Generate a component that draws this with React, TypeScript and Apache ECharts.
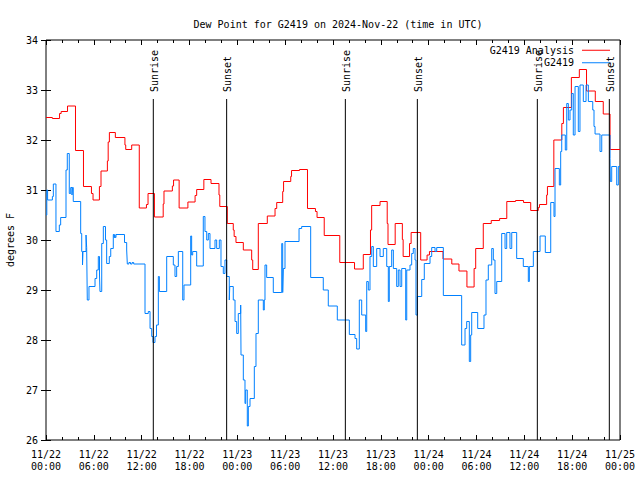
import React, { useEffect, useRef } from "react";
import * as echarts from "echarts";

const TITLE = "Dew Point for G2419 on 2024-Nov-22 (time in UTC)";
const Y_NAME = "degrees F";
const ANALYSIS_NAME = "G2419 Analysis";
const OBS_NAME = "G2419";

// hours since 2024-11-22 00:00 UTC
const analysisHours = [0, 0.8, 1.7, 1.9, 2.7, 3.7, 4.7, 5.7, 5.9, 6.7, 6.9, 7.7, 7.8, 7.95, 8.7, 9.9, 10.0, 10.75, 11.7, 12.6, 12.8, 13.6, 14.7, 14.8, 15.85, 16.0, 16.7, 17.8, 18.7, 18.9, 19.8, 20.7, 21.7, 21.8, 22.74, 23.49, 23.6, 23.83, 24.75, 25.8, 25.93, 26.63, 27.76, 28.73, 28.94, 29.69, 29.8, 30.7, 30.8, 31.8, 32.8, 33.8, 34.0, 34.9, 36.85, 38.7, 39.8, 40.7, 40.85, 41.9, 42.8, 42.9, 43.8, 44.7, 44.8, 45.6, 45.8, 47.0, 47.8, 48.1, 49.8, 50.9, 51.8, 52.8, 53.7, 53.9, 54.85, 55.85, 56.9, 57.8, 58.9, 59.9, 60.8, 61.75, 61.9, 62.8, 62.9, 63.7, 64.7, 64.9, 65.9, 66.9, 67.8, 68.9, 69.9, 70.75, 72];
const analysisDew = [32.45, 32.43, 32.53, 32.57, 32.68, 31.79, 31.07, 30.93, 30.8, 31.07, 31.38, 31.58, 31.96, 32.15, 32.05, 31.9, 31.81, 31.9, 30.64, 30.71, 30.93, 30.46, 30.72, 30.98, 31.08, 31.2, 30.64, 30.76, 30.89, 31.01, 31.21, 31.13, 30.9, 30.67, 30.33, 30.2, 30.07, 29.95, 29.8, 29.6, 29.41, 30.33, 30.48, 30.63, 30.75, 30.97, 31.17, 31.27, 31.39, 31.41, 30.63, 30.57, 30.45, 30.09, 29.55, 29.42, 29.71, 30.2, 30.69, 30.77, 30.33, 29.91, 30.33, 30.01, 29.67, 29.93, 30.15, 29.6, 29.7, 29.77, 29.62, 29.52, 29.38, 29.06, 29.43, 29.83, 30.33, 30.39, 30.43, 30.77, 30.79, 30.75, 30.59, 30.65, 30.71, 30.9, 31.07, 32.0, 32.33, 32.65, 33.25, 33.41, 32.98, 32.77, 32.52, 31.81, 31.81];

const obsHours = [0, 0.1, 0.2, 0.8, 0.92, 1.25, 1.67, 1.84, 2.51, 2.67, 2.92, 3.1, 3.26, 3.32, 3.42, 4.35, 4.48, 4.58, 4.64, 5.02, 5.1, 5.18, 5.39, 6.15, 6.36, 6.56, 6.71, 6.77, 6.99, 7.19, 7.46, 7.61, 7.94, 8.12, 8.44, 8.53, 8.62, 8.69, 8.78, 9.85, 10.12, 10.2, 10.4, 10.6, 10.8, 11.0, 12.42, 12.83, 13.05, 13.26, 13.42, 13.67, 13.86, 14.09, 14.22, 15.14, 15.97, 16.18, 16.39, 16.6, 17.15, 17.31, 18.15, 18.27, 18.4, 18.9, 19.73, 19.94, 20.16, 20.36, 20.57, 21.2, 21.41, 21.74, 21.95, 22.24, 22.45, 22.67, 22.99, 23.05, 23.49, 23.71, 23.92, 24.12, 24.42, 24.46, 24.75, 24.96, 25.05, 25.25, 25.38, 25.59, 26.13, 26.34, 26.63, 27.26, 27.38, 27.47, 27.68, 28.51, 29.57, 29.69, 29.77, 29.98, 31.74, 32.07, 33.2, 34.78, 35.41, 36.54, 38.05, 38.76, 38.97, 39.3, 39.6, 40.1, 40.23, 40.43, 40.64, 40.86, 41.06, 41.48, 41.9, 42.31, 42.74, 42.94, 43.06, 43.36, 43.57, 43.99, 44.19, 44.41, 44.62, 45.12, 45.25, 45.66, 45.87, 46.07, 46.29, 46.41, 46.58, 47.13, 47.45, 48.17, 48.38, 48.8, 49.01, 49.84, 52.14, 52.56, 52.77, 53.1, 53.27, 53.4, 54.15, 54.94, 55.19, 55.48, 55.91, 56.11, 56.32, 56.54, 57.16, 57.58, 57.79, 58.2, 58.42, 59.04, 59.87, 60.5, 60.63, 61.13, 61.97, 62.63, 63.31, 63.72, 63.85, 64.39, 64.56, 64.69, 65.14, 65.32, 65.52, 65.73, 65.94, 66.14, 66.36, 66.77, 66.98, 67.4, 67.74, 68.03, 68.58, 68.74, 68.87, 69.49, 69.71, 70.75, 70.79, 70.96, 71.59, 71.79, 72];
const obsDew = [30.5, 31.0, 30.8, 30.87, 31.12, 30.17, 30.3, 30.45, 31.4, 31.73, 30.93, 31.05, 30.9, 31.05, 30.77, 30.13, 29.77, 29.5, 29.77, 30.1, 29.85, 28.8, 29.07, 29.23, 29.4, 29.67, 29.3, 28.97, 29.93, 30.27, 30.0, 29.53, 29.67, 29.83, 30.11, 30.05, 30.11, 30.05, 30.11, 29.95, 29.8, 29.52, 29.55, 29.52, 29.55, 29.52, 28.53, 28.57, 28.23, 28.07, 27.95, 28.07, 28.3, 29.27, 28.97, 29.67, 29.5, 29.27, 29.47, 29.77, 28.8, 29.1, 30.08, 29.7, 29.77, 29.48, 30.47, 30.17, 30.0, 30.13, 29.83, 30.0, 29.83, 30.0, 29.47, 29.33, 29.6, 29.27, 28.8, 29.07, 28.8, 28.37, 28.13, 28.53, 28.7, 27.7, 27.2, 26.73, 27.0, 26.28, 26.67, 26.83, 27.47, 28.13, 28.8, 28.6, 28.8, 29.5, 29.25, 28.95, 29.93, 28.95, 29.43, 29.97, 30.23, 30.27, 29.25, 29.0, 28.68, 28.4, 28.11, 28.03, 27.82, 28.8, 28.5, 28.17, 29.17, 29.0, 29.67, 29.87, 29.47, 29.83, 29.67, 29.83, 29.47, 28.77, 29.47, 29.8, 29.43, 29.07, 29.4, 29.07, 29.43, 28.4, 29.4, 29.5, 29.73, 29.83, 29.6, 28.5, 28.87, 29.21, 29.53, 29.67, 29.85, 29.77, 29.85, 28.89, 27.9, 28.23, 28.37, 27.57, 28.1, 28.55, 28.23, 28.5, 29.2, 29.5, 29.83, 29.6, 28.93, 29.17, 30.13, 29.83, 30.15, 29.83, 30.15, 29.63, 29.47, 29.17, 29.47, 29.77, 30.08, 29.75, 30.75, 30.47, 31.43, 31.1, 31.77, 32.1, 31.8, 32.73, 32.4, 32.6, 32.93, 32.1, 33.07, 32.17, 33.1, 32.77, 33.1, 32.77, 32.6, 32.27, 32.12, 31.77, 32.1, 31.63, 31.17, 31.47, 31.1, 31.47, 31.47];

const sunEventHours = [13.46, 22.66, 37.55, 46.58, 61.63, 70.66];
const sunEventNames = ["Sunrise", "Sunset", "Sunrise", "Sunset", "Sunrise", "Sunset"];

const Y_MIN = 26;
const Y_MAX = 34;
const X_MIN = 0;
const X_MAX = 72;

const FONT = "'DejaVu Sans Mono', 'Liberation Mono', monospace";

export default function App() {
  const ref = useRef<HTMLDivElement>(null);
  useEffect(() => {
    const chart = echarts.init(ref.current!, null, { renderer: "svg" });
    const pad = (n: number) => (n < 10 ? "0" + n : "" + n);
    const tickColor = { color: "#000", width: 1 };
    chart.setOption({
      animation: false,
      backgroundColor: "#fff",
      title: {
        text: TITLE,
        left: 333,
        textAlign: "center",
        top: 14,
        textStyle: { fontFamily: FONT, fontSize: 10, fontWeight: "normal", color: "#000" },
      },
      legend: {
        data: [ANALYSIS_NAME, OBS_NAME],
        orient: "vertical",
        right: 30,
        top: 44,
        padding: 0,
        align: "right",
        icon: "rect",
        itemWidth: 28,
        itemHeight: 1,
        itemGap: 0,
        selectedMode: false,
        textStyle: { fontFamily: FONT, fontSize: 10, color: "#000", lineHeight: 12.5, padding: [0, 3, 0, 0] },
      },
      grid: {
        left: 46,
        right: 20,
        top: 40,
        bottom: 40,
        show: true,
        borderColor: "#000",
        borderWidth: 1,
        containLabel: false,
        outerBoundsMode: "none",
      },
      xAxis: [
        {
          type: "value",
          min: X_MIN,
          max: X_MAX,
          interval: 6,
          axisLine: { show: false },
          axisTick: { show: true, inside: true, length: 5, lineStyle: tickColor },
          minorTick: { show: true, splitNumber: 3, length: 3, lineStyle: tickColor },
          splitLine: { show: false },
          axisLabel: {
            margin: 8,
            fontFamily: FONT,
            fontSize: 10,
            color: "#000",
            lineHeight: 12,
            formatter: (v: number) => {
              const day = 22 + Math.floor(v / 24);
              const hh = v % 24;
              return `11/${day}\n${pad(hh)}:00`;
            },
          },
        },
        {
          type: "value",
          position: "top",
          min: X_MIN,
          max: X_MAX,
          interval: 6,
          axisLine: { show: false },
          axisTick: { show: true, inside: true, length: 5, lineStyle: tickColor },
          minorTick: { show: true, splitNumber: 3, length: 3, lineStyle: tickColor },
          splitLine: { show: false },
          axisLabel: { show: false },
        },
      ],
      yAxis: [
        {
          type: "value",
          min: Y_MIN,
          max: Y_MAX,
          interval: 1,
          name: Y_NAME,
          nameLocation: "middle",
          nameGap: 31,
          nameTextStyle: { fontFamily: FONT, fontSize: 10, color: "#000" },
          axisLine: { show: false },
          axisTick: { show: true, inside: true, length: 5, lineStyle: tickColor },
          splitLine: { show: false },
          axisLabel: { margin: 8, fontFamily: FONT, fontSize: 10, color: "#000" },
        },
        {
          type: "value",
          position: "right",
          min: Y_MIN,
          max: Y_MAX,
          interval: 1,
          axisLine: { show: false },
          axisTick: { show: true, inside: true, length: 5, lineStyle: tickColor },
          splitLine: { show: false },
          axisLabel: { show: false },
        },
      ],
      series: [
        {
          name: ANALYSIS_NAME,
          type: "line",
          step: "end",
          showSymbol: false,
          color: "#ff0000",
          lineStyle: { color: "#ff0000", width: 1 },
          data: analysisHours.map((h, i) => [h, analysisDew[i]]),
          z: 2,
        },
        {
          name: OBS_NAME,
          type: "line",
          step: "end",
          showSymbol: false,
          color: "#0080ff",
          lineStyle: { color: "#0080ff", width: 1 },
          data: obsHours.map((h, i) => [h, obsDew[i]]),
          z: 3,
        },
        {
          name: "sun",
          type: "custom",
          data: sunEventHours.map((h) => [h, Y_MIN]),
          z: 4,
          renderItem: (params: any, api: any) => {
            const h = api.value(0);
            const bottom = api.coord([h, Y_MIN]);
            const top = api.coord([h, 32.82]);
            const lab = api.coord([h, 32.96]);
            return {
              type: "group",
              children: [
                {
                  type: "line",
                  shape: { x1: bottom[0], y1: bottom[1], x2: top[0], y2: top[1] },
                  style: { stroke: "#000", lineWidth: 1 },
                },
                {
                  type: "text",
                  x: lab[0] + 1,
                  y: lab[1],
                  rotation: Math.PI / 2,
                  style: {
                    text: sunEventNames[params.dataIndex],
                    x: 0,
                    y: 0,
                    align: "left",
                    verticalAlign: "middle",
                    fill: "#000",
                    font: `10px ${FONT}`,
                  },
                },
              ],
            };
          },
        },
      ],
    });
    return () => chart.dispose();
  }, []);
  return (
    <div
      ref={ref}
      style={{ position: "absolute", left: 0, top: 0, width: 640, height: 480 }}
    />
  );
}
